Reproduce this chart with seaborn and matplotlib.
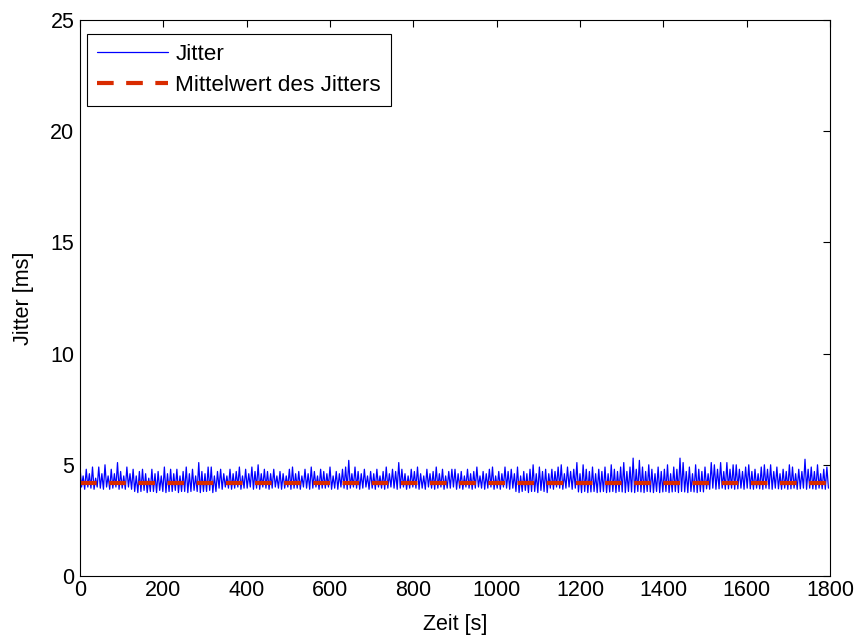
import numpy as np
import pandas as pd
import matplotlib
matplotlib.use("Agg")
import matplotlib.pyplot as plt
import seaborn as sns

# ---- data ----
step_s = 3.75  # sampling interval [s]
peaks = [
    4.9, 4.5, 4.8, 4.6, 4.9, 4.4, 4.9, 4.6, 5.0, 4.5, 4.8, 4.6, 5.1, 4.7, 4.5, 4.9, 4.6, 4.8, 4.5, 4.7, 4.8, 4.6, 4.4, 4.8, 4.6, 4.7, 4.5, 4.9, 4.6, 4.8,
    4.6, 4.8, 4.5, 4.7, 4.9, 4.6, 4.8, 4.5, 5.1, 4.7, 4.6, 4.9, 4.9, 4.5, 4.7, 4.8, 4.6, 4.5, 4.8, 4.6, 4.7, 4.9, 4.5, 4.8, 4.6, 4.9, 4.7, 5.0, 4.6, 4.8,
    4.7, 4.6, 4.8, 4.5, 4.7, 4.6, 4.5, 4.8, 4.9, 4.6, 4.7, 4.5, 4.8, 4.6, 4.9, 4.7, 4.5, 4.8, 4.7, 4.6, 4.9, 4.5, 4.7, 4.6, 4.8, 4.9, 5.2, 4.6, 4.9, 4.7,
    4.6, 4.8, 4.5, 4.7, 4.6, 4.8, 4.5, 4.7, 4.9, 4.6, 4.8, 4.7, 5.1, 4.8, 4.6, 4.5, 4.8, 4.7, 4.9, 4.6, 4.5, 4.8, 4.6, 4.7, 4.9, 4.6, 4.8, 4.5, 4.7, 4.8,
    4.8, 4.6, 4.7, 4.5, 4.8, 4.6, 4.7, 4.9, 4.5, 4.7, 4.6, 4.8, 4.9, 4.5, 4.7, 4.6, 4.9, 4.7, 4.8, 4.6, 4.9, 4.5, 4.7, 4.6, 4.8, 5.0, 4.6, 4.9, 4.7, 4.8,
    4.6, 4.8, 4.7, 4.9, 5.0, 4.6, 4.9, 4.7, 4.8, 5.1, 4.6, 5.0, 4.8, 4.7, 4.9, 4.6, 4.8, 4.7, 4.9, 4.6, 5.0, 4.8, 4.7, 4.9, 5.1, 4.7, 4.9, 5.3, 4.8, 5.2,
    4.9, 4.7, 5.0, 4.8, 4.6, 4.9, 4.7, 4.8, 5.0, 4.6, 4.9, 4.8, 5.3, 5.1, 4.7, 4.9, 4.6, 5.0, 4.8, 4.7, 4.9, 4.6, 5.1, 5.0, 4.8, 5.1, 4.7, 5.1, 4.8, 5.0,
    5.0, 4.8, 4.7, 4.9, 5.0, 4.7, 4.8, 4.6, 4.9, 5.0, 4.8, 5.0, 4.7, 4.9, 4.6, 4.8, 4.7, 5.0, 4.9, 4.6, 4.8, 4.7, 5.25, 4.8, 4.9, 4.7, 5.0, 4.6, 4.8, 4.9,
]
troughs = [
    4.0, 3.9, 4.0, 3.95, 3.9, 4.0, 3.95, 3.9, 4.0, 3.9, 3.95, 4.0, 3.9, 3.95, 3.9, 4.0, 3.9,
    3.8, 3.75, 3.8, 3.85, 3.75, 3.8, 3.8, 3.75, 3.85, 3.8, 3.75, 3.8, 3.8, 3.85, 3.75, 3.8, 3.8, 3.75, 3.8, 3.85, 3.8, 3.75, 3.8, 3.8, 3.85, 3.75, 3.8,
    3.95, 3.9, 4.0, 3.95, 3.9, 3.95, 4.0, 3.9, 3.95, 3.95, 4.0, 3.9, 3.95, 3.9, 4.0, 3.95, 3.9, 3.95, 4.0, 3.95,
    3.9, 3.95, 4.0, 3.9, 3.95, 3.95, 3.9, 4.0, 3.95, 3.9, 3.95, 4.0, 3.9, 3.95, 3.95, 4.0, 3.9, 3.95, 3.9, 4.0,
    3.95, 3.9, 3.95, 4.0, 3.95, 3.9, 3.95, 4.0, 3.9, 3.95, 3.9, 4.0, 3.95, 3.9, 3.95, 4.0, 3.95, 3.9, 3.95, 4.0,
    3.9, 3.95, 4.0, 3.95, 3.9, 3.95, 3.9, 4.0, 3.95, 3.9, 3.95, 4.0, 3.9, 3.95, 3.95, 4.0, 3.9, 3.95, 3.9, 4.0,
    3.95, 3.9, 3.95, 4.0, 3.95, 3.9, 3.95, 4.0, 3.9, 3.95, 3.9, 4.0, 3.95, 3.9, 3.95,
    3.8, 3.75, 3.8, 3.85, 3.75, 3.8, 3.8, 3.75, 3.85, 3.8, 3.75,
    3.95, 3.9, 4.0, 3.95, 3.9, 3.95, 4.0, 3.9, 3.95,
    3.78, 3.75, 3.8, 3.75, 3.78, 3.8, 3.75, 3.78, 3.8, 3.75, 3.78, 3.8, 3.75, 3.8, 3.78, 3.75, 3.8, 3.78, 3.75, 3.8,
    3.78, 3.75, 3.8, 3.78, 3.75, 3.8, 3.75, 3.78, 3.8, 3.75, 3.78, 3.8, 3.75, 3.8, 3.78, 3.75, 3.8, 3.78, 3.75, 3.8, 3.78,
    3.92, 3.9, 3.95, 3.9, 3.92, 3.95, 3.9, 3.92, 3.95, 3.9, 3.92, 3.95, 3.9, 3.95, 3.92, 3.9, 3.95, 3.92, 3.9, 3.95,
    3.92, 3.9, 3.95, 3.92, 3.9, 3.95, 3.9, 3.92, 3.95, 3.9, 3.92, 3.95, 3.9, 3.95, 3.92, 3.9, 3.95, 3.92, 3.9, 3.95,
]
mean_jitter = 4.2
x_limits = [0, 1800]
y_limits = [0, 25]
x_ticks = [0, 200, 400, 600, 800, 1000, 1200, 1400, 1600, 1800]
y_ticks = [0, 5, 10, 15, 20, 25]
x_label = "Zeit [s]"
y_label = "Jitter [ms]"
legend_labels = ["Jitter", "Mittelwert des Jitters"]

# interleave peaks and troughs
jitter = np.empty(len(peaks) + len(troughs))
jitter[0::2] = peaks
jitter[1::2] = troughs
time = np.arange(len(jitter)) * step_s
df = pd.DataFrame({"t": time, "jitter": jitter})
df_mean = pd.DataFrame({"t": [x_limits[0], x_limits[1]], "m": [mean_jitter, mean_jitter]})

sns.set_style("white")
plt.rcParams["font.family"] = ["Liberation Sans", "DejaVu Sans"]
plt.rcParams["text.color"] = "black"
plt.rcParams["axes.labelcolor"] = "black"

FS = 15.5

fig = plt.figure(figsize=(8.57, 6.37), dpi=100)
ax = fig.add_axes([80 / 857, 1 - 576 / 637, 750 / 857, 556 / 637])

sns.lineplot(data=df, x="t", y="jitter", ax=ax, color="#0000ff", linewidth=0.9,
             estimator=None, label=legend_labels[0])
sns.lineplot(data=df_mean, x="t", y="m", ax=ax, color="#d92b00", linewidth=3.0,
             estimator=None, label=legend_labels[1])
ax.lines[1].set_dashes((4, 3))

ax.set_xlim(*x_limits)
ax.set_ylim(*y_limits)
ax.set_xticks(x_ticks)
ax.set_yticks(y_ticks)
ax.set_xlabel(x_label, fontsize=FS, labelpad=9, color="black")
ax.set_ylabel(y_label, fontsize=FS, labelpad=12, color="black")
ax.tick_params(direction="in", length=5, width=0.8, top=True, right=True,
               labelsize=FS, colors="black", pad=4)
ax.tick_params(axis="x", pad=3)
for s in ax.spines.values():
    s.set_visible(True)
    s.set_color("black")
    s.set_linewidth(0.8)

leg = ax.legend(loc="upper left", bbox_to_anchor=(7 / 750, 1 - 14 / 556),
                fontsize=16.2, handlelength=3.15, handletextpad=0.33,
                borderaxespad=0, fancybox=False, framealpha=1,
                edgecolor="black", borderpad=0.45, labelspacing=0.45)
leg.get_frame().set_linewidth(0.8)
for t in leg.get_texts():
    t.set_color("black")

fig.savefig("out.png", dpi=100)
